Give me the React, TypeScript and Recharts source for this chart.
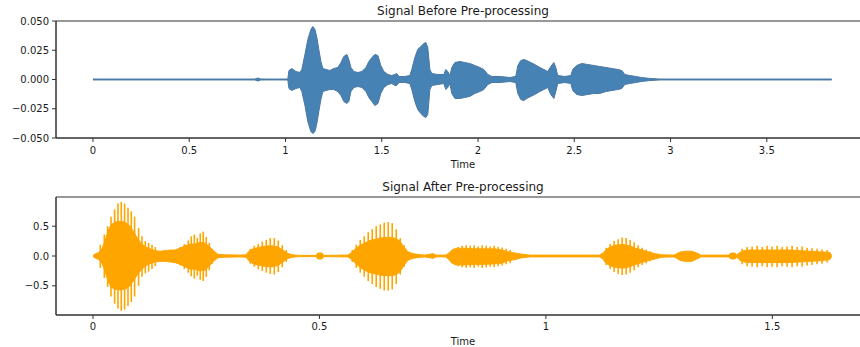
import { ComposedChart, BarChart, Area, Bar, XAxis, YAxis, ReferenceArea } from 'recharts';

// Signal before pre-processing: envelope (time in s, amplitude)
const beforeTime = [
  0, 0.841, 0.857, 0.872, 1.012, 1.018, 1.033, 1.054, 1.075, 1.085, 1.101, 1.116, 1.132, 1.142, 1.153,
  1.163, 1.173, 1.184, 1.194, 1.21, 1.23, 1.251, 1.272, 1.288, 1.303, 1.319, 1.329, 1.34, 1.355, 1.376,
  1.397, 1.418, 1.433, 1.449, 1.464, 1.48, 1.495, 1.511, 1.532, 1.552, 1.568, 1.578, 1.589, 1.62, 1.646,
  1.656, 1.672, 1.687, 1.703, 1.719, 1.729, 1.739, 1.75, 1.76, 1.791, 1.822, 1.833, 1.843, 1.854, 1.864,
  1.88, 1.906, 1.931, 1.957, 1.983, 2.009, 2.03, 2.051, 2.072, 2.113, 2.165, 2.196, 2.207, 2.222, 2.238,
  2.253, 2.274, 2.295, 2.321, 2.342, 2.362, 2.378, 2.394, 2.404, 2.414, 2.451, 2.482, 2.492, 2.513, 2.539,
  2.57, 2.601, 2.632, 2.664, 2.695, 2.726, 2.747, 2.762, 2.788, 2.819, 2.85, 2.892, 2.944, 3.837,
];
const beforeUpper = [
  0.0004, 0.0004, 0.0013, 0.0004, 0.0004, 0.0077, 0.0094, 0.0068, 0.006, 0.0086, 0.0214, 0.0342, 0.0428, 0.0453, 0.0428,
  0.0359, 0.0257, 0.0154, 0.0094, 0.0086, 0.0077, 0.0094, 0.0103, 0.0145, 0.0197, 0.0214, 0.0171, 0.0103, 0.0068, 0.006,
  0.0068, 0.0103, 0.0154, 0.0188, 0.0214, 0.0205, 0.012, 0.0068, 0.0043, 0.0034, 0.0043, 0.0051, 0.0026, 0.0026, 0.0034,
  0.0086, 0.0188, 0.0257, 0.0282, 0.0308, 0.0316, 0.0274, 0.0086, 0.0051, 0.0043, 0.0043, 0.0086, 0.0068, 0.0034, 0.0103,
  0.0145, 0.0154, 0.0145, 0.0137, 0.012, 0.0103, 0.0086, 0.0043, 0.0026, 0.0026, 0.0017, 0.0026, 0.012, 0.0162, 0.0171,
  0.0162, 0.0145, 0.0128, 0.0103, 0.0086, 0.0068, 0.0111, 0.0145, 0.0103, 0.0034, 0.0026, 0.0034, 0.0086, 0.012, 0.0137,
  0.0128, 0.012, 0.0111, 0.0103, 0.0094, 0.0086, 0.0077, 0.0043, 0.0034, 0.0026, 0.0017, 0.0009, 0.0004, 0.0004,
];
const beforeLower = [
  -0.0004, -0.0004, -0.0013, -0.0004, -0.0004, -0.0077, -0.0094, -0.0077, -0.0068, -0.0103, -0.0222, -0.0359, -0.0445, -0.0462, -0.0445,
  -0.0376, -0.0274, -0.0171, -0.0103, -0.0094, -0.0086, -0.0086, -0.0103, -0.0137, -0.0188, -0.0205, -0.0188, -0.0103, -0.0068, -0.006,
  -0.0068, -0.0103, -0.0154, -0.0188, -0.0222, -0.0205, -0.012, -0.0068, -0.0043, -0.0034, -0.0051, -0.0051, -0.0026, -0.0026, -0.0034,
  -0.0086, -0.0188, -0.0257, -0.0291, -0.0316, -0.0325, -0.0299, -0.0086, -0.0051, -0.0043, -0.0034, -0.0086, -0.0068, -0.0034, -0.012,
  -0.0162, -0.0162, -0.0154, -0.0145, -0.012, -0.0103, -0.0086, -0.0043, -0.0026, -0.0026, -0.0017, -0.0026, -0.012, -0.0171, -0.018,
  -0.0162, -0.0145, -0.0128, -0.0103, -0.0086, -0.0068, -0.0128, -0.0162, -0.0103, -0.0034, -0.0026, -0.0034, -0.0094, -0.0128, -0.0137,
  -0.0128, -0.012, -0.012, -0.0103, -0.0094, -0.0086, -0.0077, -0.0043, -0.0034, -0.0026, -0.0017, -0.0009, -0.0004, -0.0004,
];

// Signal after pre-processing: dense core envelope
const afterTime = [
  0, 0.0066, 0.0132, 0.0199, 0.0265, 0.0331, 0.0397, 0.0486, 0.0596, 0.0706, 0.0817, 0.0905, 0.0993, 0.1082, 0.117,
  0.1258, 0.1369, 0.1479, 0.1589, 0.17, 0.181, 0.192, 0.2031, 0.2141, 0.2252, 0.2362, 0.2472, 0.2583, 0.2671, 0.2759,
  0.2914, 0.3245, 0.3377, 0.3444, 0.3532, 0.3642, 0.3753, 0.3863, 0.3974, 0.4084, 0.4194, 0.4283, 0.4393, 0.457, 0.4923,
  0.4967, 0.5055, 0.5099, 0.5629, 0.5717, 0.5806, 0.5894, 0.6004, 0.6115, 0.6225, 0.6336, 0.6446, 0.6556, 0.6667, 0.6777,
  0.6865, 0.6954, 0.7064, 0.7174, 0.7329, 0.7439, 0.7506, 0.7572, 0.7792, 0.7859, 0.7925, 0.8013, 0.8212, 0.8433, 0.8653,
  0.8874, 0.9029, 0.9161, 0.9316, 0.947, 0.9647, 1.1192, 1.1258, 1.1325, 1.1413, 1.1523, 1.1634, 1.1744, 1.1854, 1.1987,
  1.2119, 1.2252, 1.2406, 1.2561, 1.2826, 1.2892, 1.298, 1.3091, 1.3223, 1.3333, 1.3422, 1.404, 1.4084, 1.4172, 1.4216,
  1.4283, 1.4371, 1.4503, 1.4724, 1.4945, 1.5166, 1.5386, 1.5607, 1.5828, 1.6049, 1.6269, 1.6313,
];
const afterUpper = [
  0.01, 0.04, 0.06, 0.12, 0.25, 0.42, 0.52, 0.57, 0.58, 0.57, 0.5, 0.4, 0.28, 0.2, 0.15,
  0.12, 0.09, 0.08, 0.09, 0.1, 0.1, 0.13, 0.17, 0.2, 0.2, 0.23, 0.22, 0.15, 0.08, 0.03,
  0.02, 0.015, 0.02, 0.08, 0.12, 0.14, 0.16, 0.17, 0.17, 0.15, 0.1, 0.05, 0.02, 0.01, 0.01,
  0.05, 0.05, 0.01, 0.015, 0.06, 0.13, 0.18, 0.22, 0.26, 0.28, 0.3, 0.31, 0.31, 0.3, 0.25,
  0.15, 0.07, 0.04, 0.025, 0.015, 0.03, 0.04, 0.015, 0.015, 0.05, 0.1, 0.13, 0.13, 0.12, 0.12,
  0.12, 0.1, 0.07, 0.05, 0.03, 0.015, 0.015, 0.05, 0.1, 0.15, 0.18, 0.19, 0.19, 0.17, 0.13,
  0.1, 0.07, 0.04, 0.02, 0.015, 0.04, 0.07, 0.08, 0.08, 0.05, 0.015, 0.015, 0.05, 0.05, 0.02,
  0.06, 0.09, 0.1, 0.1, 0.1, 0.1, 0.1, 0.09, 0.08, 0.07, 0.06, 0.01,
];
const afterLower = [
  -0.01, -0.04, -0.06, -0.12, -0.25, -0.42, -0.52, -0.56, -0.57, -0.56, -0.5, -0.4, -0.3, -0.22, -0.16,
  -0.13, -0.1, -0.09, -0.09, -0.1, -0.11, -0.14, -0.18, -0.22, -0.22, -0.25, -0.24, -0.16, -0.08, -0.03,
  -0.02, -0.015, -0.02, -0.08, -0.13, -0.15, -0.17, -0.18, -0.18, -0.16, -0.1, -0.05, -0.02, -0.01, -0.01,
  -0.05, -0.05, -0.01, -0.015, -0.06, -0.13, -0.19, -0.24, -0.28, -0.3, -0.32, -0.33, -0.33, -0.32, -0.27,
  -0.16, -0.07, -0.04, -0.025, -0.015, -0.03, -0.04, -0.015, -0.015, -0.06, -0.12, -0.15, -0.15, -0.14, -0.14,
  -0.13, -0.12, -0.08, -0.06, -0.03, -0.015, -0.015, -0.05, -0.12, -0.16, -0.19, -0.2, -0.2, -0.18, -0.14,
  -0.11, -0.08, -0.05, -0.02, -0.015, -0.04, -0.08, -0.09, -0.09, -0.05, -0.015, -0.015, -0.05, -0.05, -0.02,
  -0.07, -0.1, -0.11, -0.11, -0.11, -0.11, -0.11, -0.1, -0.09, -0.08, -0.06, -0.01,
];

// Individual peaks that stick out of the core
const spikeTime = [
  0.0155, 0.0243, 0.0316, 0.0391, 0.047, 0.0545, 0.0618, 0.0691, 0.0766, 0.0839, 0.0912, 0.1, 0.1075, 0.1148, 0.1221, 0.1296, 0.1369,
  0.192, 0.2009, 0.2097, 0.2163, 0.223, 0.2296, 0.2362, 0.2428, 0.2494, 0.2561, 0.2627,
  0.3466, 0.3554, 0.3642, 0.3731, 0.3819, 0.3907, 0.3996, 0.4084, 0.4172, 0.426,
  0.5717, 0.5806, 0.5894, 0.5982, 0.6071, 0.6159, 0.6247, 0.6336, 0.6424, 0.6512, 0.66, 0.6689, 0.6777, 0.6865,
  0.8057, 0.8146, 0.8234, 0.8322, 0.8411, 0.8499, 0.8587, 0.8675, 0.8764, 0.8852, 0.894, 0.9029, 0.9117, 0.9205,
  1.1325, 1.1413, 1.1501, 1.1589, 1.1678, 1.1766, 1.1854, 1.1943, 1.2031, 1.2119, 1.2208, 1.2296,
  1.4327, 1.4437, 1.4547, 1.4658, 1.4768, 1.4879, 1.4989, 1.5099, 1.521, 1.532, 1.543, 1.5541, 1.5651, 1.5762, 1.5872, 1.5982, 1.6093, 1.6203,
];
const spikeUpper = [
  0.19, 0.36, 0.5, 0.66, 0.78, 0.88, 0.91, 0.88, 0.81, 0.75, 0.66, 0.47, 0.33, 0.25, 0.22, 0.19, 0.15,
  0.15, 0.2, 0.26, 0.33, 0.36, 0.3, 0.38, 0.41, 0.32, 0.22, 0.12,
  0.12, 0.17, 0.2, 0.24, 0.27, 0.3, 0.3, 0.26, 0.18, 0.1,
  0.1, 0.19, 0.27, 0.33, 0.4, 0.45, 0.5, 0.53, 0.56, 0.57, 0.55, 0.45, 0.3, 0.18,
  0.15, 0.17, 0.18, 0.17, 0.18, 0.16, 0.18, 0.17, 0.16, 0.17, 0.15, 0.14, 0.12, 0.1,
  0.14, 0.2, 0.25, 0.28, 0.31, 0.3, 0.27, 0.23, 0.18, 0.14, 0.11, 0.08,
  0.12, 0.15, 0.16, 0.17, 0.15, 0.17, 0.16, 0.17, 0.15, 0.16, 0.17, 0.15, 0.16, 0.14, 0.13, 0.12, 0.11, 0.1,
];
const spikeLower = [
  -0.2, -0.37, -0.52, -0.68, -0.8, -0.88, -0.92, -0.9, -0.84, -0.77, -0.68, -0.5, -0.35, -0.29, -0.26, -0.22, -0.17,
  -0.16, -0.22, -0.28, -0.34, -0.38, -0.33, -0.4, -0.42, -0.35, -0.24, -0.13,
  -0.13, -0.18, -0.22, -0.25, -0.28, -0.3, -0.31, -0.27, -0.19, -0.1,
  -0.1, -0.2, -0.28, -0.35, -0.42, -0.47, -0.52, -0.55, -0.58, -0.58, -0.56, -0.47, -0.31, -0.18,
  -0.17, -0.19, -0.2, -0.19, -0.2, -0.18, -0.2, -0.19, -0.18, -0.19, -0.17, -0.16, -0.14, -0.12,
  -0.15, -0.22, -0.27, -0.3, -0.32, -0.31, -0.28, -0.24, -0.19, -0.15, -0.12, -0.09,
  -0.14, -0.17, -0.18, -0.19, -0.17, -0.19, -0.18, -0.19, -0.17, -0.18, -0.19, -0.17, -0.18, -0.16, -0.15, -0.14, -0.13, -0.11,
];

const beforeXTicks = [0, 0.5, 1, 1.5, 2, 2.5, 3, 3.5];
const beforeYTicks = [-0.05, -0.025, 0, 0.025, 0.05];
const afterXTicks = [0, 0.5, 1, 1.5];
const afterYTicks = [-0.5, 0, 0.5];

const FONT = 'DejaVu Sans, sans-serif';
const AXIS = '#333';
const ORANGE = '#ffa500';
const tickStyle = { fontSize: 10, fill: '#1a1a1a', fontFamily: FONT };

const minus = (s: string) => s.replace('-', '\u2212');

const beforeData = beforeTime.map((t, i) => ({ t, env: [beforeLower[i], beforeUpper[i]] }));
const afterData = afterTime.map((t, i) => ({ t, env: [afterLower[i], afterUpper[i]] }));
const spikeData = spikeTime.map((t, i) => ({ t, spike: [spikeLower[i], spikeUpper[i]] }));

const beforeX: [number, number] = [-0.192, 4.036];
const afterX: [number, number] = [-0.0817, 1.7157];
const afterY: [number, number] = [-0.99, 0.99];

export default function App() {
  return (
    <div style={{ position: 'absolute', left: 0, top: 0, width: 860, height: 347, overflow: 'hidden', background: '#fff' }}>
      <div style={{ position: 'absolute', left: 0, top: 0 }}>
        <ComposedChart width={880} height={175} data={beforeData} margin={{ top: 21, right: 10, bottom: 0, left: 0 }}>
          <XAxis
            dataKey="t"
            type="number"
            domain={beforeX}
            ticks={beforeXTicks}
            allowDataOverflow
            height={37}
            tickSize={4}
            tickMargin={5}
            stroke={AXIS}
            tick={tickStyle}
            tickFormatter={(v: number) => String(v)}
          />
          <YAxis
            type="number"
            domain={[-0.05, 0.05]}
            ticks={beforeYTicks}
            allowDataOverflow
            width={56}
            tickSize={4}
            tickMargin={3}
            stroke={AXIS}
            tick={tickStyle}
            tickFormatter={(v: number) => minus(v.toFixed(3))}
          />
          <ReferenceArea x1={beforeX[0]} x2={beforeX[1]} y1={-0.05} y2={0.05} fill="none" stroke={AXIS} strokeWidth={1} ifOverflow="visible" />
          <Area
            type="linear"
            dataKey="env"
            fill="#4682b4"
            fillOpacity={1}
            stroke="#4a77a3"
            strokeWidth={1}
            isAnimationActive={false}
            dot={false}
            activeDot={false}
          />
        </ComposedChart>
      </div>
      <div style={{ position: 'absolute', left: 0, top: 175 }}>
        <ComposedChart width={880} height={172} data={afterData} margin={{ top: 22, right: 10, bottom: 0, left: 0 }}>
          <XAxis
            dataKey="t"
            type="number"
            domain={afterX}
            ticks={afterXTicks}
            allowDataOverflow
            height={32}
            tickSize={4}
            tickMargin={4}
            stroke={AXIS}
            tick={tickStyle}
            tickFormatter={(v: number) => String(v)}
          />
          <YAxis
            type="number"
            domain={afterY}
            ticks={afterYTicks}
            allowDataOverflow
            width={56}
            tickSize={4}
            tickMargin={3}
            stroke={AXIS}
            tick={tickStyle}
            tickFormatter={(v: number) => minus(v.toFixed(1))}
          />
          <ReferenceArea x1={afterX[0]} x2={afterX[1]} y1={afterY[0]} y2={afterY[1]} fill="none" stroke={AXIS} strokeWidth={1} ifOverflow="visible" />
          <Area
            type="linear"
            dataKey="env"
            fill={ORANGE}
            fillOpacity={1}
            stroke={ORANGE}
            strokeWidth={1}
            isAnimationActive={false}
            dot={false}
            activeDot={false}
          />
        </ComposedChart>
      </div>
      {/* spikes overlay on the same scales as the lower plot */}
      <div style={{ position: 'absolute', left: 0, top: 175 }}>
        <BarChart width={880} height={172} data={spikeData} margin={{ top: 22, right: 10, bottom: 32, left: 56 }}>
          <XAxis dataKey="t" type="number" domain={afterX} allowDataOverflow hide />
          <YAxis type="number" domain={afterY} allowDataOverflow hide />
          <Bar dataKey="spike" fill={ORANGE} barSize={1.6} isAnimationActive={false} />
        </BarChart>
      </div>
      <svg width={860} height={347} style={{ position: 'absolute', left: 0, top: 0, pointerEvents: 'none' }}>
        <g fontFamily={FONT} fill="#1a1a1a" textAnchor="middle">
          <text x={463} y={15} fontSize={12}>Signal Before Pre-processing</text>
          <text x={463} y={168} fontSize={10}>Time</text>
          <text x={463} y={191} fontSize={12}>Signal After Pre-processing</text>
          <text x={463} y={345} fontSize={10}>Time</text>
        </g>
      </svg>
    </div>
  );
}
